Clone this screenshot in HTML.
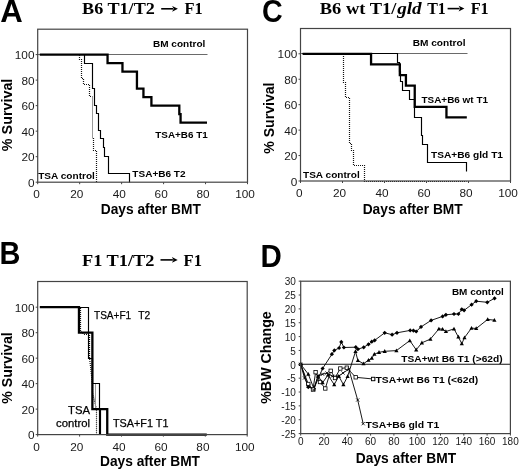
<!DOCTYPE html>
<html><head><meta charset="utf-8"><style>html,body{margin:0;padding:0;background:#fff;}svg{display:block;filter:grayscale(1);}</style></head>
<body>
<svg width="520" height="470" viewBox="0 0 520 470">
<rect width="520" height="470" fill="#fff"/>
<text x="0.2" y="21.6" font-family='"Liberation Sans", sans-serif' font-size="30.5" font-weight="700" text-anchor="start" fill="#000" textLength="22.5" lengthAdjust="spacingAndGlyphs" >A</text>
<text x="82.1" y="14.4" font-family='"Liberation Serif", serif' font-size="16.5" font-weight="700" text-anchor="start" fill="#000" textLength="72.7" lengthAdjust="spacingAndGlyphs" >B6 T1/T2</text>
<line x1="161.2" y1="8.8" x2="173.1" y2="8.8" stroke="#000" stroke-width="1.6"/>
<path d="M177.9,8.8 L172.1,5.9 L173.7,8.8 L172.1,11.700000000000001 Z" fill="#000"/>
<text x="184.4" y="14.4" font-family='"Liberation Serif", serif' font-size="16.5" font-weight="700" text-anchor="start" fill="#000" textLength="18.2" lengthAdjust="spacingAndGlyphs" >F1</text>
<polyline points="37.50,54.50 207.50,54.50" fill="none" stroke="#6a6a6a" stroke-width="1.2" />
<polyline points="39.80,54.60 107.56,54.60 107.56,63.15 122.46,63.15 122.46,71.57 136.94,71.57 136.94,88.67 143.44,88.67 143.44,97.09 151.41,97.09 151.41,105.64 179.31,105.64 179.31,114.19 180.57,114.19 180.57,122.61 207.01,122.61 207.01,122.61" fill="none" stroke="#000" stroke-width="2.3" stroke-linejoin="miter"/>
<polyline points="79.50,54.50 79.50,59.50 81.50,59.50 81.50,78.50 83.50,78.50 83.50,84.50 89.50,84.50 89.50,96.50 92.50,96.50" fill="none" stroke="#111" stroke-width="1.2" stroke-dasharray="1,1" stroke-dashoffset="1.5"/>
<polyline points="92.50,96.50 92.50,138.50" fill="none" stroke="#999" stroke-width="1.0" />
<polyline points="92.50,138.50 93.50,138.50 93.50,150.50 96.50,150.50 96.50,182.50" fill="none" stroke="#111" stroke-width="1.2" stroke-dasharray="1,1" stroke-dashoffset="1.5"/>
<polyline points="84.50,54.50 84.50,63.50 92.50,63.50 92.50,88.50 94.50,88.50 94.50,105.50 96.50,105.50 96.50,113.50 98.50,113.50 98.50,130.50 100.50,130.50 100.50,138.50 103.50,138.50 103.50,147.50 104.50,147.50 104.50,156.50 108.50,156.50 108.50,173.50 129.50,173.50 129.50,182.50" fill="none" stroke="#000" stroke-width="1.15" />
<rect x="37.7" y="29.2" width="209.8" height="153.0" fill="none" stroke="#444" stroke-width="1.2"/>
<line x1="35.70" y1="182.20" x2="37.70" y2="182.20" stroke="#444" stroke-width="1"/>
<line x1="37.70" y1="182.20" x2="37.70" y2="184.20" stroke="#444" stroke-width="1"/>
<line x1="35.70" y1="156.68" x2="37.70" y2="156.68" stroke="#444" stroke-width="1"/>
<line x1="79.66" y1="182.20" x2="79.66" y2="184.20" stroke="#444" stroke-width="1"/>
<line x1="35.70" y1="131.16" x2="37.70" y2="131.16" stroke="#444" stroke-width="1"/>
<line x1="121.62" y1="182.20" x2="121.62" y2="184.20" stroke="#444" stroke-width="1"/>
<line x1="35.70" y1="105.64" x2="37.70" y2="105.64" stroke="#444" stroke-width="1"/>
<line x1="163.58" y1="182.20" x2="163.58" y2="184.20" stroke="#444" stroke-width="1"/>
<line x1="35.70" y1="80.12" x2="37.70" y2="80.12" stroke="#444" stroke-width="1"/>
<line x1="205.54" y1="182.20" x2="205.54" y2="184.20" stroke="#444" stroke-width="1"/>
<line x1="35.70" y1="54.60" x2="37.70" y2="54.60" stroke="#444" stroke-width="1"/>
<line x1="247.50" y1="182.20" x2="247.50" y2="184.20" stroke="#444" stroke-width="1"/>
<text x="34.5" y="186.8" font-family='"Liberation Sans", sans-serif' font-size="11.8" font-weight="400" text-anchor="end" fill="#1a1a1a" >0</text>
<text x="36.6" y="198" font-family='"Liberation Sans", sans-serif' font-size="11.8" font-weight="400" text-anchor="middle" fill="#1a1a1a" >0</text>
<text x="34.5" y="161.28" font-family='"Liberation Sans", sans-serif' font-size="11.8" font-weight="400" text-anchor="end" fill="#1a1a1a" >20</text>
<text x="76.76" y="198" font-family='"Liberation Sans", sans-serif' font-size="11.8" font-weight="400" text-anchor="middle" fill="#1a1a1a" >20</text>
<text x="34.5" y="135.76" font-family='"Liberation Sans", sans-serif' font-size="11.8" font-weight="400" text-anchor="end" fill="#1a1a1a" >40</text>
<text x="119.22" y="198" font-family='"Liberation Sans", sans-serif' font-size="11.8" font-weight="400" text-anchor="middle" fill="#1a1a1a" >40</text>
<text x="34.5" y="110.24" font-family='"Liberation Sans", sans-serif' font-size="11.8" font-weight="400" text-anchor="end" fill="#1a1a1a" >60</text>
<text x="161.18" y="198" font-family='"Liberation Sans", sans-serif' font-size="11.8" font-weight="400" text-anchor="middle" fill="#1a1a1a" >60</text>
<text x="34.5" y="84.72" font-family='"Liberation Sans", sans-serif' font-size="11.8" font-weight="400" text-anchor="end" fill="#1a1a1a" >80</text>
<text x="203.14" y="198" font-family='"Liberation Sans", sans-serif' font-size="11.8" font-weight="400" text-anchor="middle" fill="#1a1a1a" >80</text>
<text x="34.5" y="59.2" font-family='"Liberation Sans", sans-serif' font-size="11.8" font-weight="400" text-anchor="end" fill="#1a1a1a" >100</text>
<text x="245.1" y="198" font-family='"Liberation Sans", sans-serif' font-size="11.8" font-weight="400" text-anchor="middle" fill="#1a1a1a" >100</text>
<text x="153" y="47.3" font-family='"Liberation Sans", sans-serif' font-size="9.7" font-weight="700" text-anchor="start" fill="#000" textLength="52.3" lengthAdjust="spacingAndGlyphs" >BM control</text>
<text x="155.3" y="137.8" font-family='"Liberation Sans", sans-serif' font-size="9.7" font-weight="700" text-anchor="start" fill="#000" textLength="52.4" lengthAdjust="spacingAndGlyphs" >TSA+B6 T1</text>
<text x="132.3" y="176.8" font-family='"Liberation Sans", sans-serif' font-size="9.7" font-weight="700" text-anchor="start" fill="#000" textLength="53.3" lengthAdjust="spacingAndGlyphs" >TSA+B6 T2</text>
<text x="38.2" y="179.0" font-family='"Liberation Sans", sans-serif' font-size="9.7" font-weight="700" text-anchor="start" fill="#000" textLength="56.7" lengthAdjust="spacingAndGlyphs" >TSA control</text>
<text x="100.8" y="214.2" font-family='"Liberation Sans", sans-serif' font-size="14.3" font-weight="700" text-anchor="start" fill="#000" textLength="100" lengthAdjust="spacingAndGlyphs" >Days after BMT</text>
<text transform="translate(11.8 114.9) rotate(-90)" x="0" y="0" font-family='"Liberation Sans", sans-serif' font-size="14.3" font-weight="700" text-anchor="middle" textLength="72.5" lengthAdjust="spacingAndGlyphs">% Survival</text>
<text x="262" y="22.1" font-family='"Liberation Sans", sans-serif' font-size="30.5" font-weight="700" text-anchor="start" fill="#000" textLength="20.7" lengthAdjust="spacingAndGlyphs" >C</text>
<text x="319.8" y="14.3" font-family='"Liberation Serif", serif' font-size="16.5" font-weight="700" text-anchor="start" fill="#000" textLength="76.5" lengthAdjust="spacingAndGlyphs" >B6 wt T1/</text>
<text x="397.2" y="14.3" font-family='"Liberation Serif", serif' font-size="16.5" font-weight="700" text-anchor="start" fill="#000" font-style="italic" textLength="24.5" lengthAdjust="spacingAndGlyphs" >gld</text>
<text x="427.2" y="14.3" font-family='"Liberation Serif", serif' font-size="16.5" font-weight="700" text-anchor="start" fill="#000" textLength="18.6" lengthAdjust="spacingAndGlyphs" >T1</text>
<line x1="447.6" y1="8.6" x2="459.59999999999997" y2="8.6" stroke="#000" stroke-width="1.6"/>
<path d="M464.4,8.6 L458.59999999999997,5.699999999999999 L460.2,8.6 L458.59999999999997,11.5 Z" fill="#000"/>
<text x="470.7" y="14.3" font-family='"Liberation Serif", serif' font-size="16.5" font-weight="700" text-anchor="start" fill="#000" textLength="18.0" lengthAdjust="spacingAndGlyphs" >F1</text>
<polyline points="300.50,53.50 467.50,53.50" fill="none" stroke="#6a6a6a" stroke-width="1.2" />
<polyline points="343.50,53.50 343.50,53.50 343.50,82.50 345.50,82.50 345.50,97.50 349.50,97.50 349.50,143.50 351.50,143.50 351.50,150.50 353.50,150.50 353.50,165.50 364.50,165.50 364.50,181.50 466.50,181.50 466.50,181.50" fill="none" stroke="#111" stroke-width="1.2" stroke-dasharray="1,1" stroke-dashoffset="1.5"/>
<polyline points="302.50,53.50 397.50,53.50 397.50,62.50 399.50,62.50 399.50,71.50 400.50,71.50 400.50,81.50 402.50,81.50 402.50,90.50 409.50,90.50 409.50,99.50 414.50,99.50 414.50,117.50 421.50,117.50 421.50,135.50 422.50,135.50 422.50,144.50 427.50,144.50 427.50,162.50 466.50,162.50 466.50,171.50" fill="none" stroke="#000" stroke-width="1.15" />
<polyline points="302.60,53.80 371.06,53.80 371.06,64.36 399.83,64.36 399.83,75.04 405.92,75.04 405.92,85.60 414.74,85.60 414.74,106.84 446.45,106.84 446.45,117.40 466.82,117.40 466.82,117.40" fill="none" stroke="#000" stroke-width="2.3" stroke-linejoin="miter"/>
<rect x="300.5" y="28.5" width="210.0" height="152.5" fill="none" stroke="#444" stroke-width="1.2"/>
<line x1="298.50" y1="181.00" x2="300.50" y2="181.00" stroke="#444" stroke-width="1"/>
<line x1="300.50" y1="181.00" x2="300.50" y2="183.00" stroke="#444" stroke-width="1"/>
<line x1="298.50" y1="155.56" x2="300.50" y2="155.56" stroke="#444" stroke-width="1"/>
<line x1="342.50" y1="181.00" x2="342.50" y2="183.00" stroke="#444" stroke-width="1"/>
<line x1="298.50" y1="130.12" x2="300.50" y2="130.12" stroke="#444" stroke-width="1"/>
<line x1="384.50" y1="181.00" x2="384.50" y2="183.00" stroke="#444" stroke-width="1"/>
<line x1="298.50" y1="104.68" x2="300.50" y2="104.68" stroke="#444" stroke-width="1"/>
<line x1="426.50" y1="181.00" x2="426.50" y2="183.00" stroke="#444" stroke-width="1"/>
<line x1="298.50" y1="79.24" x2="300.50" y2="79.24" stroke="#444" stroke-width="1"/>
<line x1="468.50" y1="181.00" x2="468.50" y2="183.00" stroke="#444" stroke-width="1"/>
<line x1="298.50" y1="53.80" x2="300.50" y2="53.80" stroke="#444" stroke-width="1"/>
<line x1="510.50" y1="181.00" x2="510.50" y2="183.00" stroke="#444" stroke-width="1"/>
<text x="297.3" y="185.6" font-family='"Liberation Sans", sans-serif' font-size="11.8" font-weight="400" text-anchor="end" fill="#1a1a1a" >0</text>
<text x="299.4" y="197" font-family='"Liberation Sans", sans-serif' font-size="11.8" font-weight="400" text-anchor="middle" fill="#1a1a1a" >0</text>
<text x="297.3" y="160.16" font-family='"Liberation Sans", sans-serif' font-size="11.8" font-weight="400" text-anchor="end" fill="#1a1a1a" >20</text>
<text x="339.6" y="197" font-family='"Liberation Sans", sans-serif' font-size="11.8" font-weight="400" text-anchor="middle" fill="#1a1a1a" >20</text>
<text x="297.3" y="134.72" font-family='"Liberation Sans", sans-serif' font-size="11.8" font-weight="400" text-anchor="end" fill="#1a1a1a" >40</text>
<text x="382.1" y="197" font-family='"Liberation Sans", sans-serif' font-size="11.8" font-weight="400" text-anchor="middle" fill="#1a1a1a" >40</text>
<text x="297.3" y="109.28" font-family='"Liberation Sans", sans-serif' font-size="11.8" font-weight="400" text-anchor="end" fill="#1a1a1a" >60</text>
<text x="424.1" y="197" font-family='"Liberation Sans", sans-serif' font-size="11.8" font-weight="400" text-anchor="middle" fill="#1a1a1a" >60</text>
<text x="297.3" y="83.84" font-family='"Liberation Sans", sans-serif' font-size="11.8" font-weight="400" text-anchor="end" fill="#1a1a1a" >80</text>
<text x="466.1" y="197" font-family='"Liberation Sans", sans-serif' font-size="11.8" font-weight="400" text-anchor="middle" fill="#1a1a1a" >80</text>
<text x="297.3" y="58.4" font-family='"Liberation Sans", sans-serif' font-size="11.8" font-weight="400" text-anchor="end" fill="#1a1a1a" >100</text>
<text x="508.1" y="197" font-family='"Liberation Sans", sans-serif' font-size="11.8" font-weight="400" text-anchor="middle" fill="#1a1a1a" >100</text>
<text x="412.7" y="46.3" font-family='"Liberation Sans", sans-serif' font-size="9.7" font-weight="700" text-anchor="start" fill="#000" textLength="52.8" lengthAdjust="spacingAndGlyphs" >BM control</text>
<text x="421.5" y="102.7" font-family='"Liberation Sans", sans-serif' font-size="9.7" font-weight="700" text-anchor="start" fill="#000" textLength="66.5" lengthAdjust="spacingAndGlyphs" >TSA+B6 wt T1</text>
<text x="431" y="158.0" font-family='"Liberation Sans", sans-serif' font-size="9.7" font-weight="700" text-anchor="start" fill="#000" textLength="72" lengthAdjust="spacingAndGlyphs" >TSA+B6 gld T1</text>
<text x="303" y="178.2" font-family='"Liberation Sans", sans-serif' font-size="9.7" font-weight="700" text-anchor="start" fill="#000" textLength="56.7" lengthAdjust="spacingAndGlyphs" >TSA control</text>
<text x="362.7" y="213.6" font-family='"Liberation Sans", sans-serif' font-size="14.3" font-weight="700" text-anchor="start" fill="#000" textLength="100" lengthAdjust="spacingAndGlyphs" >Days after BMT</text>
<text transform="translate(273.9 118.1) rotate(-90)" x="0" y="0" font-family='"Liberation Sans", sans-serif' font-size="14.3" font-weight="700" text-anchor="middle" textLength="71.2" lengthAdjust="spacingAndGlyphs">% Survival</text>
<text x="-0.5" y="263.8" font-family='"Liberation Sans", sans-serif' font-size="30.5" font-weight="700" text-anchor="start" fill="#000" textLength="20.9" lengthAdjust="spacingAndGlyphs" >B</text>
<text x="82" y="265.5" font-family='"Liberation Serif", serif' font-size="16.5" font-weight="700" text-anchor="start" fill="#000" textLength="72.5" lengthAdjust="spacingAndGlyphs" >F1 T1/T2</text>
<line x1="160.5" y1="259.9" x2="172.89999999999998" y2="259.9" stroke="#000" stroke-width="1.6"/>
<path d="M177.7,259.9 L171.89999999999998,257.0 L173.49999999999997,259.9 L171.89999999999998,262.79999999999995 Z" fill="#000"/>
<text x="183.6" y="265.5" font-family='"Liberation Serif", serif' font-size="16.5" font-weight="700" text-anchor="start" fill="#000" textLength="18.3" lengthAdjust="spacingAndGlyphs" >F1</text>
<polyline points="80.50,307.50 80.50,331.50 84.50,334.50 89.50,334.50 89.50,357.50 92.50,384.50 92.50,392.50 96.50,409.50 96.50,434.50" fill="none" stroke="#111" stroke-width="1.2" stroke-dasharray="1,1" stroke-dashoffset="1.5"/>
<polyline points="95.50,383.50 95.50,409.50" fill="none" stroke="#999" stroke-width="1.0" />
<polyline points="79.50,307.50 88.50,307.50 88.50,358.50 92.50,358.50 92.50,383.50 99.50,383.50 99.50,434.50" fill="none" stroke="#000" stroke-width="1.15" />
<polyline points="100.50,409.50 100.50,434.50" fill="none" stroke="#000" stroke-width="1.15" />
<polyline points="39.80,307.20 78.97,307.20 78.97,332.68 92.38,332.68 92.38,409.12 107.25,409.12 107.25,434.60 206.77,434.60 206.77,434.60" fill="none" stroke="#000" stroke-width="2.3" stroke-linejoin="miter"/>
<rect x="37.7" y="281.5" width="209.5" height="153.10000000000002" fill="none" stroke="#444" stroke-width="1.2"/>
<line x1="35.70" y1="434.60" x2="37.70" y2="434.60" stroke="#444" stroke-width="1"/>
<line x1="37.70" y1="434.60" x2="37.70" y2="436.60" stroke="#444" stroke-width="1"/>
<line x1="35.70" y1="409.12" x2="37.70" y2="409.12" stroke="#444" stroke-width="1"/>
<line x1="79.60" y1="434.60" x2="79.60" y2="436.60" stroke="#444" stroke-width="1"/>
<line x1="35.70" y1="383.64" x2="37.70" y2="383.64" stroke="#444" stroke-width="1"/>
<line x1="121.50" y1="434.60" x2="121.50" y2="436.60" stroke="#444" stroke-width="1"/>
<line x1="35.70" y1="358.16" x2="37.70" y2="358.16" stroke="#444" stroke-width="1"/>
<line x1="163.40" y1="434.60" x2="163.40" y2="436.60" stroke="#444" stroke-width="1"/>
<line x1="35.70" y1="332.68" x2="37.70" y2="332.68" stroke="#444" stroke-width="1"/>
<line x1="205.30" y1="434.60" x2="205.30" y2="436.60" stroke="#444" stroke-width="1"/>
<line x1="35.70" y1="307.20" x2="37.70" y2="307.20" stroke="#444" stroke-width="1"/>
<line x1="247.20" y1="434.60" x2="247.20" y2="436.60" stroke="#444" stroke-width="1"/>
<text x="34.5" y="439.2" font-family='"Liberation Sans", sans-serif' font-size="11.8" font-weight="400" text-anchor="end" fill="#1a1a1a" >0</text>
<text x="36.6" y="450.5" font-family='"Liberation Sans", sans-serif' font-size="11.8" font-weight="400" text-anchor="middle" fill="#1a1a1a" >0</text>
<text x="34.5" y="413.72" font-family='"Liberation Sans", sans-serif' font-size="11.8" font-weight="400" text-anchor="end" fill="#1a1a1a" >20</text>
<text x="76.7" y="450.5" font-family='"Liberation Sans", sans-serif' font-size="11.8" font-weight="400" text-anchor="middle" fill="#1a1a1a" >20</text>
<text x="34.5" y="388.24" font-family='"Liberation Sans", sans-serif' font-size="11.8" font-weight="400" text-anchor="end" fill="#1a1a1a" >40</text>
<text x="119.1" y="450.5" font-family='"Liberation Sans", sans-serif' font-size="11.8" font-weight="400" text-anchor="middle" fill="#1a1a1a" >40</text>
<text x="34.5" y="362.76" font-family='"Liberation Sans", sans-serif' font-size="11.8" font-weight="400" text-anchor="end" fill="#1a1a1a" >60</text>
<text x="161.0" y="450.5" font-family='"Liberation Sans", sans-serif' font-size="11.8" font-weight="400" text-anchor="middle" fill="#1a1a1a" >60</text>
<text x="34.5" y="337.28" font-family='"Liberation Sans", sans-serif' font-size="11.8" font-weight="400" text-anchor="end" fill="#1a1a1a" >80</text>
<text x="202.9" y="450.5" font-family='"Liberation Sans", sans-serif' font-size="11.8" font-weight="400" text-anchor="middle" fill="#1a1a1a" >80</text>
<text x="34.5" y="311.8" font-family='"Liberation Sans", sans-serif' font-size="11.8" font-weight="400" text-anchor="end" fill="#1a1a1a" >100</text>
<text x="244.8" y="450.5" font-family='"Liberation Sans", sans-serif' font-size="11.8" font-weight="400" text-anchor="middle" fill="#1a1a1a" >100</text>
<text x="94.0" y="319.4" font-family='"Liberation Sans", sans-serif' font-size="11.6" font-weight="400" text-anchor="start" fill="#000" textLength="37.2" lengthAdjust="spacingAndGlyphs" stroke="#000" stroke-width="0.25">TSA+F1</text>
<text x="138.2" y="319.4" font-family='"Liberation Sans", sans-serif' font-size="11.6" font-weight="400" text-anchor="start" fill="#000" textLength="12.0" lengthAdjust="spacingAndGlyphs" stroke="#000" stroke-width="0.25">T2</text>
<text x="90" y="414.2" font-family='"Liberation Sans", sans-serif' font-size="11.3" font-weight="400" text-anchor="end" fill="#000" stroke="#000" stroke-width="0.25">TSA</text>
<text x="90" y="427" font-family='"Liberation Sans", sans-serif' font-size="11.3" font-weight="400" text-anchor="end" fill="#000" stroke="#000" stroke-width="0.25">control</text>
<text x="113" y="426.5" font-family='"Liberation Sans", sans-serif' font-size="11.3" font-weight="400" text-anchor="start" fill="#000" textLength="55.4" lengthAdjust="spacingAndGlyphs" stroke="#000" stroke-width="0.25">TSA+F1 T1</text>
<text x="100" y="465.8" font-family='"Liberation Sans", sans-serif' font-size="14.3" font-weight="700" text-anchor="start" fill="#000" textLength="100" lengthAdjust="spacingAndGlyphs" >Days after BMT</text>
<text transform="translate(11.8 368) rotate(-90)" x="0" y="0" font-family='"Liberation Sans", sans-serif' font-size="14.3" font-weight="700" text-anchor="middle" textLength="71.4" lengthAdjust="spacingAndGlyphs">% Survival</text>
<text x="260.6" y="267.1" font-family='"Liberation Sans", sans-serif' font-size="30.5" font-weight="700" text-anchor="start" fill="#000" textLength="21.3" lengthAdjust="spacingAndGlyphs" >D</text>
<line x1="300.70" y1="364.30" x2="510.40" y2="364.30" stroke="#111" stroke-width="1.1"/>
<polyline points="300.70,364.30 304.50,378.00 308.30,386.00 313.50,390.00 318.00,376.00 322.60,374.20 327.00,373.00 332.20,376.20 338.80,376.20 343.00,373.00 348.80,369.20 357.70,400.00 363.20,423.70" fill="none" stroke="#000" stroke-width="0.9" />
<polyline points="300.70,364.30 308.30,384.00 313.00,389.50 315.60,372.20 320.00,382.00 325.30,388.50 330.70,370.80 335.00,378.00 340.30,368.50 346.80,367.70 355.70,377.30 373.10,379.00" fill="none" stroke="#000" stroke-width="0.9" />
<polyline points="300.70,364.30 308.30,374.10 314.00,389.00 318.00,376.00 322.60,382.70 328.00,375.00 334.20,384.60 338.80,376.20 343.40,384.60 347.60,376.50 355.50,351.50 357.90,360.50 363.50,363.70 368.50,360.20 371.80,358.10 374.40,354.20 379.00,352.30 384.70,351.30 396.40,350.60 409.80,340.60 416.20,349.80 421.90,342.80 430.40,339.10 438.90,328.90 442.60,329.10 445.90,331.50 454.00,328.90 458.40,337.00 461.80,343.70 464.50,337.60 471.50,328.10 476.20,328.50 487.70,319.40 494.40,320.20" fill="none" stroke="#000" stroke-width="0.9" />
<polyline points="300.70,364.30 308.30,387.10 313.90,388.50 322.60,368.50 331.90,354.20 334.30,350.40 339.10,348.00 341.30,341.90 343.90,347.50 355.80,347.20 357.90,349.20 363.70,347.30 368.50,344.30 371.80,341.70 374.70,340.30 384.70,332.80 392.10,334.70 397.00,332.80 410.20,330.40 413.40,330.60 416.20,331.50 421.00,326.90 431.10,320.40 442.60,316.40 445.90,314.80 454.00,314.00 458.40,314.00 461.80,309.30 464.10,310.30 471.60,304.70 476.20,301.20 487.30,302.30 494.60,298.30" fill="none" stroke="#000" stroke-width="0.9" />
<path d="M300.7,362.2 L302.8,364.3 L300.7,366.4 L298.6,364.3 Z" fill="#000"/>
<path d="M308.3,385.0 L310.4,387.1 L308.3,389.2 L306.2,387.1 Z" fill="#000"/>
<path d="M313.9,386.4 L316.0,388.5 L313.9,390.6 L311.8,388.5 Z" fill="#000"/>
<path d="M322.6,366.4 L324.7,368.5 L322.6,370.6 L320.5,368.5 Z" fill="#000"/>
<path d="M331.9,352.1 L334.0,354.2 L331.9,356.3 L329.8,354.2 Z" fill="#000"/>
<path d="M334.3,348.3 L336.4,350.4 L334.3,352.5 L332.2,350.4 Z" fill="#000"/>
<path d="M339.1,345.9 L341.2,348.0 L339.1,350.1 L337.0,348.0 Z" fill="#000"/>
<path d="M341.3,339.8 L343.4,341.9 L341.3,344.0 L339.2,341.9 Z" fill="#000"/>
<path d="M343.9,345.4 L346.0,347.5 L343.9,349.6 L341.8,347.5 Z" fill="#000"/>
<path d="M355.8,345.1 L357.9,347.2 L355.8,349.3 L353.7,347.2 Z" fill="#000"/>
<path d="M357.9,347.1 L360.0,349.2 L357.9,351.3 L355.8,349.2 Z" fill="#000"/>
<path d="M363.7,345.2 L365.8,347.3 L363.7,349.4 L361.6,347.3 Z" fill="#000"/>
<path d="M368.5,342.2 L370.6,344.3 L368.5,346.4 L366.4,344.3 Z" fill="#000"/>
<path d="M371.8,339.6 L373.9,341.7 L371.8,343.8 L369.7,341.7 Z" fill="#000"/>
<path d="M374.7,338.2 L376.8,340.3 L374.7,342.4 L372.6,340.3 Z" fill="#000"/>
<path d="M384.7,330.7 L386.8,332.8 L384.7,334.9 L382.6,332.8 Z" fill="#000"/>
<path d="M392.1,332.6 L394.2,334.7 L392.1,336.8 L390.0,334.7 Z" fill="#000"/>
<path d="M397.0,330.7 L399.1,332.8 L397.0,334.9 L394.9,332.8 Z" fill="#000"/>
<path d="M410.2,328.3 L412.3,330.4 L410.2,332.5 L408.1,330.4 Z" fill="#000"/>
<path d="M413.4,328.5 L415.5,330.6 L413.4,332.7 L411.3,330.6 Z" fill="#000"/>
<path d="M416.2,329.4 L418.3,331.5 L416.2,333.6 L414.1,331.5 Z" fill="#000"/>
<path d="M421.0,324.8 L423.1,326.9 L421.0,329.0 L418.9,326.9 Z" fill="#000"/>
<path d="M431.1,318.3 L433.2,320.4 L431.1,322.5 L429.0,320.4 Z" fill="#000"/>
<path d="M442.6,314.3 L444.7,316.4 L442.6,318.5 L440.5,316.4 Z" fill="#000"/>
<path d="M445.9,312.7 L448.0,314.8 L445.9,316.9 L443.8,314.8 Z" fill="#000"/>
<path d="M454.0,311.9 L456.1,314.0 L454.0,316.1 L451.9,314.0 Z" fill="#000"/>
<path d="M458.4,311.9 L460.5,314.0 L458.4,316.1 L456.3,314.0 Z" fill="#000"/>
<path d="M461.8,307.2 L463.9,309.3 L461.8,311.4 L459.7,309.3 Z" fill="#000"/>
<path d="M464.1,308.2 L466.2,310.3 L464.1,312.4 L462.0,310.3 Z" fill="#000"/>
<path d="M471.6,302.6 L473.7,304.7 L471.6,306.8 L469.5,304.7 Z" fill="#000"/>
<path d="M476.2,299.1 L478.3,301.2 L476.2,303.3 L474.1,301.2 Z" fill="#000"/>
<path d="M487.3,300.2 L489.4,302.3 L487.3,304.4 L485.2,302.3 Z" fill="#000"/>
<path d="M494.6,296.2 L496.7,298.3 L494.6,300.4 L492.5,298.3 Z" fill="#000"/>
<path d="M300.7,362.1 L302.8,365.9 L298.6,365.9 Z" fill="#000"/>
<path d="M308.3,371.9 L310.4,375.7 L306.2,375.7 Z" fill="#000"/>
<path d="M314.0,386.8 L316.1,390.6 L311.9,390.6 Z" fill="#000"/>
<path d="M318.0,373.8 L320.1,377.6 L315.9,377.6 Z" fill="#000"/>
<path d="M322.6,380.5 L324.7,384.3 L320.5,384.3 Z" fill="#000"/>
<path d="M328.0,372.8 L330.1,376.6 L325.9,376.6 Z" fill="#000"/>
<path d="M334.2,382.4 L336.3,386.2 L332.1,386.2 Z" fill="#000"/>
<path d="M338.8,374.0 L340.9,377.8 L336.7,377.8 Z" fill="#000"/>
<path d="M343.4,382.4 L345.5,386.2 L341.3,386.2 Z" fill="#000"/>
<path d="M347.6,374.3 L349.7,378.1 L345.5,378.1 Z" fill="#000"/>
<path d="M355.5,349.3 L357.6,353.1 L353.4,353.1 Z" fill="#000"/>
<path d="M357.9,358.3 L360.0,362.1 L355.8,362.1 Z" fill="#000"/>
<path d="M363.5,361.5 L365.6,365.3 L361.4,365.3 Z" fill="#000"/>
<path d="M368.5,358.0 L370.6,361.8 L366.4,361.8 Z" fill="#000"/>
<path d="M371.8,355.9 L373.9,359.7 L369.7,359.7 Z" fill="#000"/>
<path d="M374.4,352.0 L376.5,355.8 L372.3,355.8 Z" fill="#000"/>
<path d="M379.0,350.1 L381.1,353.9 L376.9,353.9 Z" fill="#000"/>
<path d="M384.7,349.1 L386.8,352.9 L382.6,352.9 Z" fill="#000"/>
<path d="M396.4,348.4 L398.5,352.2 L394.3,352.2 Z" fill="#000"/>
<path d="M409.8,338.4 L411.9,342.2 L407.7,342.2 Z" fill="#000"/>
<path d="M416.2,347.6 L418.3,351.4 L414.1,351.4 Z" fill="#000"/>
<path d="M421.9,340.6 L424.0,344.4 L419.8,344.4 Z" fill="#000"/>
<path d="M430.4,336.9 L432.5,340.7 L428.3,340.7 Z" fill="#000"/>
<path d="M438.9,326.7 L441.0,330.5 L436.8,330.5 Z" fill="#000"/>
<path d="M442.6,326.9 L444.7,330.7 L440.5,330.7 Z" fill="#000"/>
<path d="M445.9,329.3 L448.0,333.1 L443.8,333.1 Z" fill="#000"/>
<path d="M454.0,326.7 L456.1,330.5 L451.9,330.5 Z" fill="#000"/>
<path d="M458.4,334.8 L460.5,338.6 L456.3,338.6 Z" fill="#000"/>
<path d="M461.8,341.5 L463.9,345.3 L459.7,345.3 Z" fill="#000"/>
<path d="M464.5,335.4 L466.6,339.2 L462.4,339.2 Z" fill="#000"/>
<path d="M471.5,325.9 L473.6,329.7 L469.4,329.7 Z" fill="#000"/>
<path d="M476.2,326.3 L478.3,330.1 L474.1,330.1 Z" fill="#000"/>
<path d="M487.7,317.2 L489.8,321.0 L485.6,321.0 Z" fill="#000"/>
<path d="M494.4,318.0 L496.5,321.8 L492.3,321.8 Z" fill="#000"/>
<rect x="306.6" y="382.3" width="3.4" height="3.4" fill="#fff" stroke="#000" stroke-width="0.8"/>
<rect x="311.3" y="387.8" width="3.4" height="3.4" fill="#fff" stroke="#000" stroke-width="0.8"/>
<rect x="313.9" y="370.5" width="3.4" height="3.4" fill="#fff" stroke="#000" stroke-width="0.8"/>
<rect x="318.3" y="380.3" width="3.4" height="3.4" fill="#fff" stroke="#000" stroke-width="0.8"/>
<rect x="323.6" y="386.8" width="3.4" height="3.4" fill="#fff" stroke="#000" stroke-width="0.8"/>
<rect x="329.0" y="369.1" width="3.4" height="3.4" fill="#fff" stroke="#000" stroke-width="0.8"/>
<rect x="333.3" y="376.3" width="3.4" height="3.4" fill="#fff" stroke="#000" stroke-width="0.8"/>
<rect x="338.6" y="366.8" width="3.4" height="3.4" fill="#fff" stroke="#000" stroke-width="0.8"/>
<rect x="345.1" y="366.0" width="3.4" height="3.4" fill="#fff" stroke="#000" stroke-width="0.8"/>
<rect x="354.0" y="375.6" width="3.4" height="3.4" fill="#fff" stroke="#000" stroke-width="0.8"/>
<rect x="371.4" y="377.3" width="3.4" height="3.4" fill="#fff" stroke="#000" stroke-width="0.8"/>
<path d="M299.1,362.7 L302.3,365.9 M299.1,365.9 L302.3,362.7" stroke="#000" stroke-width="0.8"/>
<path d="M302.9,376.4 L306.1,379.6 M302.9,379.6 L306.1,376.4" stroke="#000" stroke-width="0.8"/>
<path d="M306.7,384.4 L309.9,387.6 M306.7,387.6 L309.9,384.4" stroke="#000" stroke-width="0.8"/>
<path d="M311.9,388.4 L315.1,391.6 M311.9,391.6 L315.1,388.4" stroke="#000" stroke-width="0.8"/>
<path d="M316.4,374.4 L319.6,377.6 M316.4,377.6 L319.6,374.4" stroke="#000" stroke-width="0.8"/>
<path d="M321.0,372.6 L324.2,375.8 M321.0,375.8 L324.2,372.6" stroke="#000" stroke-width="0.8"/>
<path d="M325.4,371.4 L328.6,374.6 M325.4,374.6 L328.6,371.4" stroke="#000" stroke-width="0.8"/>
<path d="M330.6,374.6 L333.8,377.8 M330.6,377.8 L333.8,374.6" stroke="#000" stroke-width="0.8"/>
<path d="M337.2,374.6 L340.4,377.8 M337.2,377.8 L340.4,374.6" stroke="#000" stroke-width="0.8"/>
<path d="M341.4,371.4 L344.6,374.6 M341.4,374.6 L344.6,371.4" stroke="#000" stroke-width="0.8"/>
<path d="M347.2,367.6 L350.4,370.8 M347.2,370.8 L350.4,367.6" stroke="#000" stroke-width="0.8"/>
<path d="M356.1,398.4 L359.3,401.6 M356.1,401.6 L359.3,398.4" stroke="#000" stroke-width="0.8"/>
<path d="M361.6,422.1 L364.8,425.3 M361.6,425.3 L364.8,422.1" stroke="#000" stroke-width="0.8"/>
<path d="M300.7,361.9 L303.1,364.3 L300.7,366.7 L298.3,364.3 Z" fill="#000"/>
<rect x="300.7" y="281.2" width="209.7" height="152.4" fill="none" stroke="#444" stroke-width="1.2"/>
<line x1="298.70" y1="281.17" x2="300.70" y2="281.17" stroke="#444" stroke-width="1"/>
<text x="295.8" y="285.37" font-family='"Liberation Sans", sans-serif' font-size="10" font-weight="400" text-anchor="end" fill="#1a1a1a" >30</text>
<line x1="298.70" y1="295.03" x2="300.70" y2="295.03" stroke="#444" stroke-width="1"/>
<text x="295.8" y="299.23" font-family='"Liberation Sans", sans-serif' font-size="10" font-weight="400" text-anchor="end" fill="#1a1a1a" >25</text>
<line x1="298.70" y1="308.88" x2="300.70" y2="308.88" stroke="#444" stroke-width="1"/>
<text x="295.8" y="313.08" font-family='"Liberation Sans", sans-serif' font-size="10" font-weight="400" text-anchor="end" fill="#1a1a1a" >20</text>
<line x1="298.70" y1="322.74" x2="300.70" y2="322.74" stroke="#444" stroke-width="1"/>
<text x="295.8" y="326.94" font-family='"Liberation Sans", sans-serif' font-size="10" font-weight="400" text-anchor="end" fill="#1a1a1a" >15</text>
<line x1="298.70" y1="336.59" x2="300.70" y2="336.59" stroke="#444" stroke-width="1"/>
<text x="295.8" y="340.79" font-family='"Liberation Sans", sans-serif' font-size="10" font-weight="400" text-anchor="end" fill="#1a1a1a" >10</text>
<line x1="298.70" y1="350.44" x2="300.70" y2="350.44" stroke="#444" stroke-width="1"/>
<text x="295.8" y="354.64" font-family='"Liberation Sans", sans-serif' font-size="10" font-weight="400" text-anchor="end" fill="#1a1a1a" >5</text>
<line x1="298.70" y1="364.30" x2="300.70" y2="364.30" stroke="#444" stroke-width="1"/>
<text x="295.8" y="368.5" font-family='"Liberation Sans", sans-serif' font-size="10" font-weight="400" text-anchor="end" fill="#1a1a1a" >0</text>
<line x1="298.70" y1="378.16" x2="300.70" y2="378.16" stroke="#444" stroke-width="1"/>
<text x="295.8" y="382.36" font-family='"Liberation Sans", sans-serif' font-size="10" font-weight="400" text-anchor="end" fill="#1a1a1a" >-5</text>
<line x1="298.70" y1="392.01" x2="300.70" y2="392.01" stroke="#444" stroke-width="1"/>
<text x="295.8" y="396.21" font-family='"Liberation Sans", sans-serif' font-size="10" font-weight="400" text-anchor="end" fill="#1a1a1a" >-10</text>
<line x1="298.70" y1="405.87" x2="300.70" y2="405.87" stroke="#444" stroke-width="1"/>
<text x="295.8" y="410.06" font-family='"Liberation Sans", sans-serif' font-size="10" font-weight="400" text-anchor="end" fill="#1a1a1a" >-15</text>
<line x1="298.70" y1="419.72" x2="300.70" y2="419.72" stroke="#444" stroke-width="1"/>
<text x="295.8" y="423.92" font-family='"Liberation Sans", sans-serif' font-size="10" font-weight="400" text-anchor="end" fill="#1a1a1a" >-20</text>
<line x1="298.70" y1="433.57" x2="300.70" y2="433.57" stroke="#444" stroke-width="1"/>
<text x="295.8" y="437.77" font-family='"Liberation Sans", sans-serif' font-size="10" font-weight="400" text-anchor="end" fill="#1a1a1a" >-25</text>
<line x1="300.70" y1="433.60" x2="300.70" y2="435.60" stroke="#444" stroke-width="1"/>
<text x="300.7" y="445.4" font-family='"Liberation Sans", sans-serif' font-size="10" font-weight="400" text-anchor="middle" fill="#1a1a1a" >0</text>
<line x1="324.00" y1="433.60" x2="324.00" y2="435.60" stroke="#444" stroke-width="1"/>
<text x="324.0" y="445.4" font-family='"Liberation Sans", sans-serif' font-size="10" font-weight="400" text-anchor="middle" fill="#1a1a1a" >20</text>
<line x1="347.30" y1="433.60" x2="347.30" y2="435.60" stroke="#444" stroke-width="1"/>
<text x="347.3" y="445.4" font-family='"Liberation Sans", sans-serif' font-size="10" font-weight="400" text-anchor="middle" fill="#1a1a1a" >40</text>
<line x1="370.60" y1="433.60" x2="370.60" y2="435.60" stroke="#444" stroke-width="1"/>
<text x="370.6" y="445.4" font-family='"Liberation Sans", sans-serif' font-size="10" font-weight="400" text-anchor="middle" fill="#1a1a1a" >60</text>
<line x1="393.90" y1="433.60" x2="393.90" y2="435.60" stroke="#444" stroke-width="1"/>
<text x="393.9" y="445.4" font-family='"Liberation Sans", sans-serif' font-size="10" font-weight="400" text-anchor="middle" fill="#1a1a1a" >80</text>
<line x1="417.20" y1="433.60" x2="417.20" y2="435.60" stroke="#444" stroke-width="1"/>
<text x="417.2" y="445.4" font-family='"Liberation Sans", sans-serif' font-size="10" font-weight="400" text-anchor="middle" fill="#1a1a1a" >100</text>
<line x1="440.50" y1="433.60" x2="440.50" y2="435.60" stroke="#444" stroke-width="1"/>
<text x="440.5" y="445.4" font-family='"Liberation Sans", sans-serif' font-size="10" font-weight="400" text-anchor="middle" fill="#1a1a1a" >120</text>
<line x1="463.80" y1="433.60" x2="463.80" y2="435.60" stroke="#444" stroke-width="1"/>
<text x="463.8" y="445.4" font-family='"Liberation Sans", sans-serif' font-size="10" font-weight="400" text-anchor="middle" fill="#1a1a1a" >140</text>
<line x1="487.10" y1="433.60" x2="487.10" y2="435.60" stroke="#444" stroke-width="1"/>
<text x="487.1" y="445.4" font-family='"Liberation Sans", sans-serif' font-size="10" font-weight="400" text-anchor="middle" fill="#1a1a1a" >160</text>
<line x1="510.40" y1="433.60" x2="510.40" y2="435.60" stroke="#444" stroke-width="1"/>
<text x="510.4" y="445.4" font-family='"Liberation Sans", sans-serif' font-size="10" font-weight="400" text-anchor="middle" fill="#1a1a1a" >180</text>
<text x="451.9" y="294.7" font-family='"Liberation Sans", sans-serif' font-size="9.7" font-weight="700" text-anchor="start" fill="#000" textLength="52" lengthAdjust="spacingAndGlyphs" >BM control</text>
<text x="401.3" y="361.7" font-family='"Liberation Sans", sans-serif' font-size="9.7" font-weight="700" text-anchor="start" fill="#000" textLength="101.3" lengthAdjust="spacingAndGlyphs" >TSA+wt B6 T1 (&gt;62d)</text>
<rect x="371.4" y="377.3" width="3.4" height="3.4" fill="#fff" stroke="#000" stroke-width="0.8"/>
<text x="375.5" y="383.1" font-family='"Liberation Sans", sans-serif' font-size="9.7" font-weight="700" text-anchor="start" fill="#000" textLength="102.8" lengthAdjust="spacingAndGlyphs" >TSA+wt B6 T1 (&lt;62d)</text>
<text x="365.4" y="428.0" font-family='"Liberation Sans", sans-serif' font-size="9.7" font-weight="700" text-anchor="start" fill="#000" textLength="73.8" lengthAdjust="spacingAndGlyphs" >TSA+B6 gld T1</text>
<text x="355.8" y="463.1" font-family='"Liberation Sans", sans-serif' font-size="14.3" font-weight="700" text-anchor="start" fill="#000" textLength="100.3" lengthAdjust="spacingAndGlyphs" >Days after BMT</text>
<text transform="translate(271.3 357.5) rotate(-90)" x="0" y="0" font-family='"Liberation Sans", sans-serif' font-size="14.3" font-weight="700" text-anchor="middle" textLength="92.6" lengthAdjust="spacingAndGlyphs">%BW Change</text>
</svg>
</body></html>
